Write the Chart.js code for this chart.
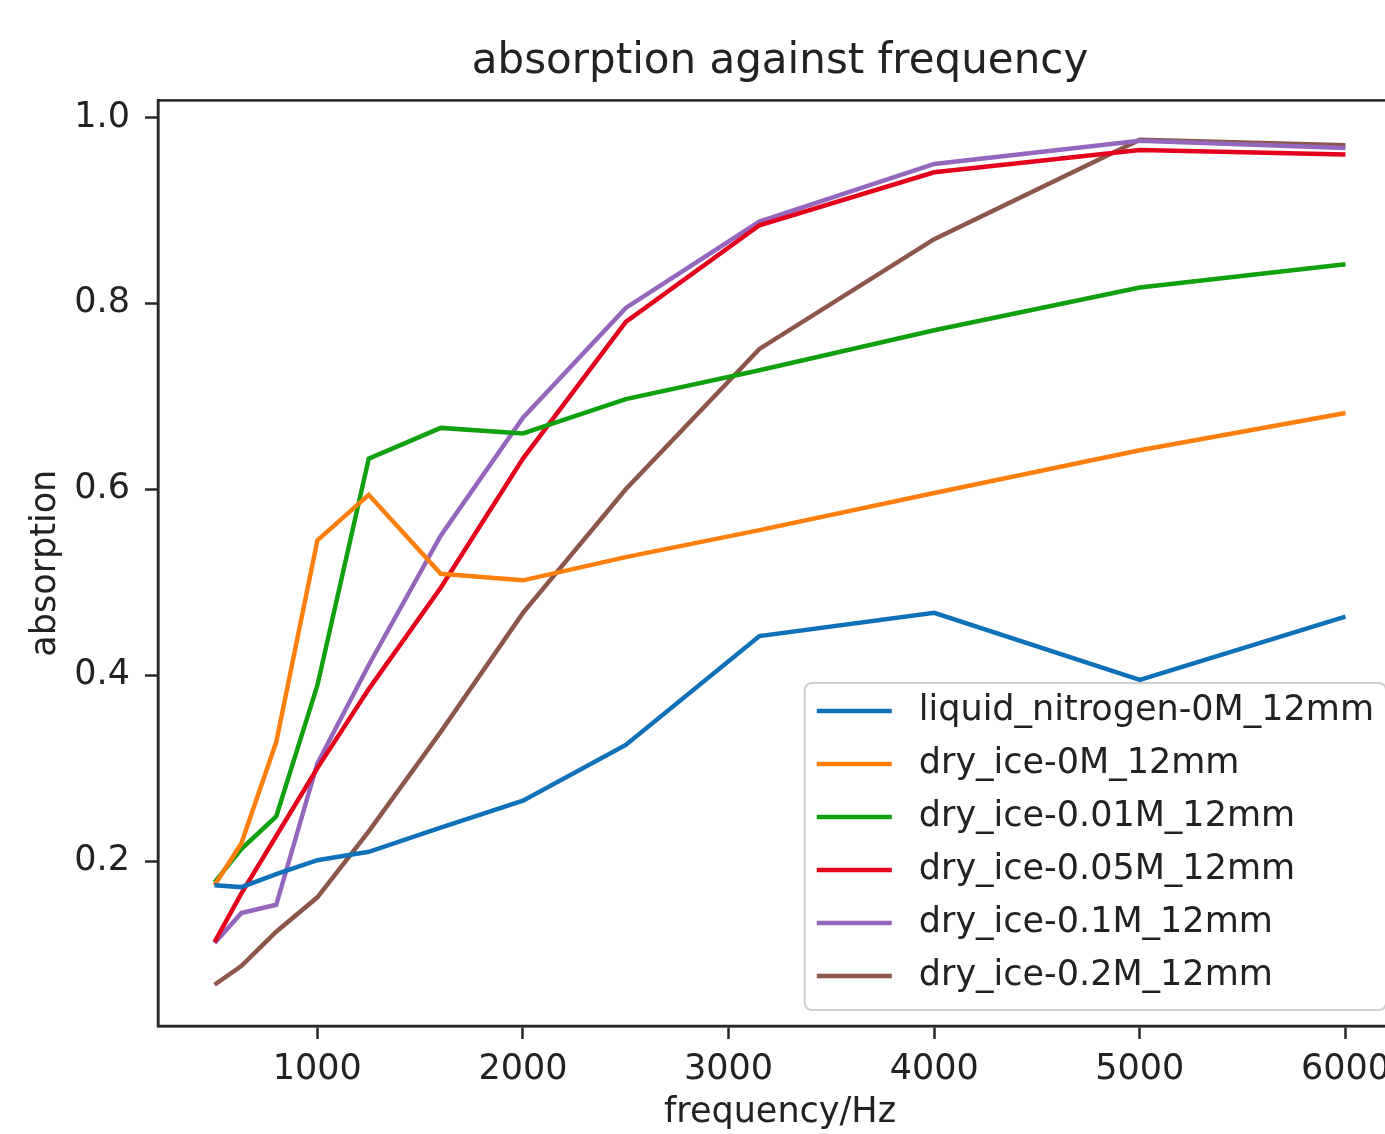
<!DOCTYPE html>
<html>
<head>
<meta charset="utf-8">
<script src="https://cdn.jsdelivr.net/npm/chart.js"></script>
<style>
  html, body { margin: 0; padding: 0; background: #fff; overflow: hidden; }
  #wrap { width: 1420px; height: 1134px; }
</style>
</head>
<body>
<div id="wrap"><canvas id="absorption-chart" width="1420" height="1134"></canvas></div>
<script>
const frequencies = [500, 630, 800, 1000, 1250, 1600, 2000, 2500, 3150, 4000, 5000, 6000];

const liquidNitrogen0M = [0.174, 0.172, 0.186, 0.201, 0.210, 0.236, 0.265, 0.325, 0.442, 0.467, 0.395, 0.463];
const dryIce0M = [0.174, 0.219, 0.328, 0.545, 0.594, 0.509, 0.502, 0.527, 0.556, 0.596, 0.642, 0.682];
const dryIce001M = [0.177, 0.213, 0.248, 0.389, 0.633, 0.666, 0.660, 0.697, 0.728, 0.771, 0.817, 0.842];
const dryIce005M = [0.113, 0.165, 0.227, 0.300, 0.385, 0.494, 0.633, 0.780, 0.884, 0.941, 0.965, 0.960];
const dryIce01M = [0.112, 0.144, 0.153, 0.305, 0.411, 0.550, 0.677, 0.795, 0.888, 0.950, 0.975, 0.967];
const dryIce02M = [0.067, 0.087, 0.124, 0.161, 0.232, 0.339, 0.467, 0.600, 0.751, 0.869, 0.976, 0.970];

const seriesLabels = ['liquid_nitrogen-0M_12mm', 'dry_ice-0M_12mm', 'dry_ice-0.01M_12mm',
  'dry_ice-0.05M_12mm', 'dry_ice-0.1M_12mm', 'dry_ice-0.2M_12mm'];
const seriesValues = [liquidNitrogen0M, dryIce0M, dryIce001M, dryIce005M, dryIce01M, dryIce02M];
const seriesColors = ['#0f72b8', '#ff7f0e', '#10a010', '#e4001c', '#9467bd', '#8c564b'];

const xTicks = [1000, 2000, 3000, 4000, 5000, 6000];
const yTicks = [0.2, 0.4, 0.6, 0.8, 1.0];

const FONT = 'DejaVu Sans';
const INK = '#222';

// box around the plot, matplotlib style
const plotFrame = {
  id: 'plotFrame',
  afterDatasetsDraw(chart) {
    const {ctx, chartArea: a} = chart;
    ctx.save();
    ctx.strokeStyle = '#262626';
    ctx.lineWidth = 2.5;
    ctx.strokeRect(a.left, a.top, a.right - a.left, a.bottom - a.top);
    ctx.restore();
  }
};

// legend inside the axes, lower right
const legendBox = {
  id: 'legendBox',
  afterDraw(chart) {
    const {ctx, chartArea} = chart;
    const sets = chart.data.datasets;
    ctx.save();
    ctx.font = `35px "${FONT}"`;
    const textW = Math.max(...sets.map(d => ctx.measureText(d.label).width));
    const rowH = 53;
    const w = 12 + 75 + 27 + textW + 12;
    const h = rowH * sets.length + 9;
    const right = chartArea.right - 16;
    const bottom = chartArea.bottom - 16;
    const left = right - w;
    const top = bottom - h;

    ctx.beginPath();
    ctx.roundRect(left, top, w, h, 7);
    ctx.fillStyle = 'rgba(255,255,255,0.8)';
    ctx.fill();
    ctx.strokeStyle = '#d0d0d0';
    ctx.lineWidth = 2;
    ctx.stroke();

    sets.forEach((d, i) => {
      const y = top + 28 + i * rowH;
      ctx.beginPath();
      ctx.moveTo(left + 12, y);
      ctx.lineTo(left + 87, y);
      ctx.strokeStyle = d.borderColor;
      ctx.lineWidth = 4.5;
      ctx.stroke();
      ctx.fillStyle = INK;
      ctx.textBaseline = 'middle';
      ctx.textAlign = 'left';
      ctx.fillText(d.label, left + 114, y);
    });
    ctx.restore();
  }
};

const ctx = document.getElementById('absorption-chart');

new Chart(ctx, {
  type: 'line',
  data: {
    datasets: seriesLabels.map((label, i) => ({
      label,
      data: frequencies.map((f, j) => ({x: f, y: seriesValues[i][j]})),
      borderColor: seriesColors[i],
      backgroundColor: seriesColors[i],
      borderWidth: 4.5,
      pointRadius: 0,
      tension: 0,
      fill: false
    }))
  },
  options: {
    responsive: false,
    animation: false,
    devicePixelRatio: 1,
    layout: {
      padding: {left: 0, right: 18, top: 0, bottom: 0}
    },
    plugins: {
      legend: {display: false},
      tooltip: {enabled: false},
      title: {
        display: true,
        fullSize: false,
        text: 'absorption against frequency',
        color: INK,
        font: {family: FONT, size: 42, weight: 'normal'},
        padding: {top: 37, bottom: 13}
      }
    },
    scales: {
      x: {
        type: 'linear',
        min: 225,
        max: 6275,
        afterBuildTicks: scale => { scale.ticks = xTicks.map(v => ({value: v})); },
        afterFit: scale => { scale.height = 108; },
        grid: {
          drawOnChartArea: false,
          tickLength: 13,
          tickWidth: 2.5,
          tickColor: '#262626'
        },
        border: {display: true, color: '#262626', width: 2.5},
        ticks: {
          color: INK,
          padding: 10,
          maxRotation: 0,
          font: {family: FONT, size: 35},
          callback: v => String(v)
        },
        title: {
          display: true,
          text: 'frequency/Hz',
          color: INK,
          font: {family: FONT, size: 35},
          padding: {top: 0, bottom: 0}
        }
      },
      y: {
        type: 'linear',
        min: 0.0226,
        max: 1.0183,
        afterBuildTicks: scale => { scale.ticks = yTicks.map(v => ({value: v})); },
        afterFit: scale => { scale.width = 158; },
        grid: {
          drawOnChartArea: false,
          tickLength: 13,
          tickWidth: 2.5,
          tickColor: '#262626'
        },
        border: {display: true, color: '#262626', width: 2.5},
        ticks: {
          color: INK,
          padding: 15,
          font: {family: FONT, size: 35},
          callback: v => v.toFixed(1)
        },
        title: {
          display: true,
          text: 'absorption',
          color: INK,
          font: {family: FONT, size: 35},
          padding: {top: 25, bottom: 0}
        }
      }
    }
  },
  plugins: [plotFrame, legendBox]
});
</script>
</body>
</html>
